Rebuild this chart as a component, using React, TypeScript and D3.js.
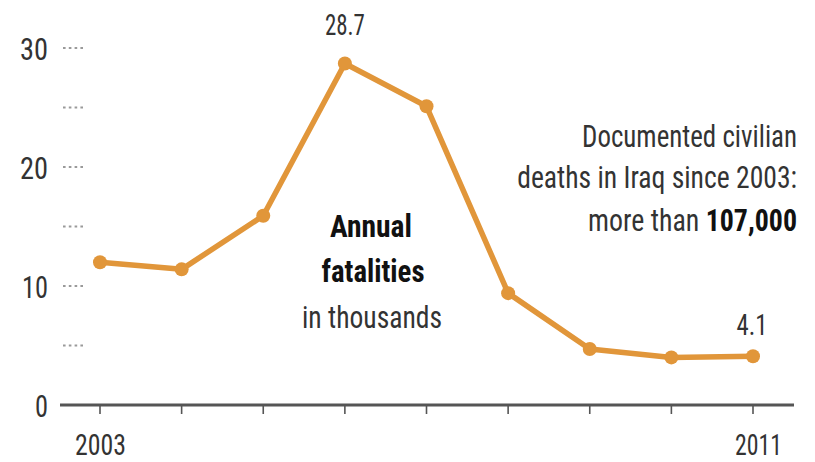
import React, { useLayoutEffect, useRef } from "react";
import * as d3 from "d3";

const years = [2003, 2004, 2005, 2006, 2007, 2008, 2009, 2010, 2011];
const fatalities = [12.0, 11.4, 15.9, 28.7, 25.1, 9.4, 4.7, 4.0, 4.1];
const yTickLabels = [0, 10, 20, 30];
const gridValues = [5, 10, 15, 20, 25, 30];
const xLabelYears = [2003, 2011];
const annotation = ["Documented civilian", "deaths in Iraq since 2003:"];
const annotationLast = "more than ";
const annotationBold = "107,000";
const centerLabel = ["Annual", "fatalities", "in thousands"];

const W = 815;
const H = 462;
const ORANGE = "#E1963A";
const TEXT = "#333";
const FONT = "'Liberation Sans Narrow', 'Roboto Condensed', 'DejaVu Sans Condensed', 'Liberation Sans', sans-serif";

type FitProps = {
  x: number;
  y: number;
  width: number;
  anchor: "start" | "middle" | "end";
  fontSize: number;
  fill?: string;
  bold?: boolean;
  children: React.ReactNode;
};

function FitText({ x, y, width, anchor, fontSize, fill = TEXT, bold = false, children }: FitProps) {
  const gRef = useRef<SVGGElement>(null);
  const tRef = useRef<SVGTextElement>(null);
  useLayoutEffect(() => {
    const t = tRef.current;
    const g = gRef.current;
    if (!t || !g) return;
    const w = t.getBBox().width || width;
    const s = width / w;
    g.setAttribute("transform", `translate(${x},${y}) scale(${s},1)`);
  });
  return (
    <g ref={gRef} transform={`translate(${x},${y})`}>
      <text ref={tRef} x={0} y={0} textAnchor={anchor} fontSize={fontSize} fill={fill}
        fontWeight={bold ? "bold" : "normal"}>{children}</text>
    </g>
  );
}

export default function App() {
  const x = d3.scaleLinear().domain([2003, 2011]).range([100, 753]);
  const y = d3.scaleLinear().domain([0, 30]).range([405, 48]);
  const pts = years.map((yr, i) => [x(yr), y(fatalities[i])] as [number, number]);
  const line = d3.line();
  const yLabelWidth: Record<number, number> = { 0: 13, 10: 26, 20: 28, 30: 28 };
  const last = fatalities.length - 1;
  const peak = fatalities.indexOf(d3.max(fatalities) as number);

  return (
    <svg width={W} height={H} style={{ position: "absolute", left: 0, top: 0, background: "#fff" }} fontFamily={FONT}>
      <rect width={W} height={H} fill="#fff" />
      {gridValues.map((v) => (
        <line key={v} x1={63} x2={86} y1={y(v)} y2={y(v)} stroke="#9a9a9a" strokeWidth={2.2} strokeDasharray="2.6,3.2" />
      ))}
      {yTickLabels.map((v) => (
        <FitText key={v} x={48} y={y(v) + 12} anchor="end" fontSize={32} width={yLabelWidth[v]}>{v}</FitText>
      ))}
      <line x1={60} x2={794} y1={y(0)} y2={y(0)} stroke="#555" strokeWidth={3} />
      {years.map((yr) => (
        <line key={yr} x1={x(yr)} x2={x(yr)} y1={y(0)} y2={y(0) + 9} stroke="#555" strokeWidth={1.6} />
      ))}
      {xLabelYears.map((yr, i) => (
        <FitText key={yr} x={i === 0 ? 75 : 782} y={455} anchor={i === 0 ? "start" : "end"} fontSize={30}
          width={i === 0 ? 51 : 47}>{yr}</FitText>
      ))}
      <path d={line(pts) || ""} fill="none" stroke={ORANGE} strokeWidth={5.5} strokeLinejoin="round" />
      {pts.map((p, i) => (
        <circle key={i} cx={p[0]} cy={p[1]} r={7} fill={ORANGE} />
      ))}
      <FitText x={pts[peak][0]} y={35} anchor="middle" fontSize={30} width={40}>{fatalities[peak].toFixed(1)}</FitText>
      <FitText x={pts[last][0] - 1} y={335} anchor="middle" fontSize={29} width={31}>{fatalities[last].toFixed(1)}</FitText>
      <FitText x={797} y={147} anchor="end" fontSize={32} width={215}>{annotation[0]}</FitText>
      <FitText x={797} y={188} anchor="end" fontSize={32} width={280}>{annotation[1]}</FitText>
      <FitText x={797} y={231} anchor="end" fontSize={32} width={209}>
        {annotationLast}
        <tspan fontWeight="bold" fill="#111">{annotationBold}</tspan>
      </FitText>
      <FitText x={371} y={237} anchor="middle" fontSize={32} bold fill="#111" width={82}>{centerLabel[0]}</FitText>
      <FitText x={373} y={282} anchor="middle" fontSize={32} bold fill="#111" width={103}>{centerLabel[1]}</FitText>
      <FitText x={372} y={328} anchor="middle" fontSize={32} width={140}>{centerLabel[2]}</FitText>
    </svg>
  );
}
